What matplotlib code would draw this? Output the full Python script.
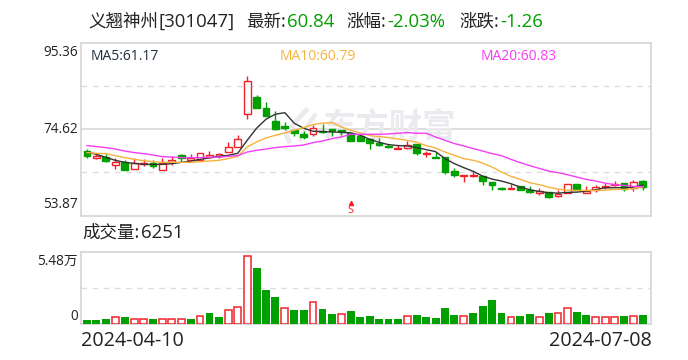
import numpy as np
import matplotlib
matplotlib.use("Agg")
import matplotlib.pyplot as plt
from matplotlib.patches import Rectangle

plt.rcParams["font.family"] = ["Noto Sans CJK SC", "DejaVu Sans"]

RED = "#f0232a"
GREEN = "#00a000"
LATIN = ["Open Sans", "DejaVu Sans"]

opens = [69.31, 67.69, 67.93, 66.00, 66.82, 65.14, 66.25, 66.58, 64.80, 66.66,
         68.34, 67.31, 67.31, 68.03, 68.10, 69.14, 70.44, 78.40, 82.26, 79.68,
         76.71, 75.34, 74.37, 73.41, 73.41, 74.30, 74.62, 74.37, 73.72, 72.93,
         72.28, 71.31, 70.59, 69.86, 70.11, 71.00, 68.59, 68.03, 67.86, 64.48,
         63.35, 63.35, 63.28, 61.83, 60.38, 60.14, 60.94, 59.90, 59.25, 59.49,
         58.53, 59.35, 61.52, 59.35, 60.07, 60.80, 61.28, 61.59, 60.46, 62.07]
closes = [68.10, 68.10, 66.90, 66.82, 64.80, 66.49, 66.58, 65.76, 66.58, 67.14,
          67.79, 67.79, 69.00, 68.51, 68.59, 70.44, 72.37, 86.12, 79.75, 77.82,
          74.62, 74.86, 73.72, 72.76, 74.93, 73.97, 74.13, 74.06, 71.79, 71.72,
          71.24, 70.76, 70.44, 70.11, 70.92, 68.90, 68.83, 67.79, 64.24, 63.52,
          63.59, 63.69, 62.15, 61.11, 60.14, 60.38, 59.97, 59.42, 59.73, 58.21,
          59.11, 61.52, 60.07, 59.83, 60.80, 60.94, 61.42, 60.14, 62.00, 60.84]
highs = [69.96, 68.75, 68.75, 67.79, 67.26, 67.62, 67.45, 67.31, 67.79, 68.10,
         68.59, 68.75, 69.00, 69.31, 68.83, 71.48, 73.34, 87.40, 82.82, 81.13,
         78.89, 76.30, 74.54, 74.13, 75.58, 75.82, 74.62, 74.54, 73.97, 73.17,
         72.44, 72.44, 71.17, 70.83, 71.72, 71.00, 69.38, 69.24, 67.86, 65.21,
         63.59, 64.41, 63.28, 61.83, 60.70, 61.35, 60.94, 61.04, 60.55, 59.49,
         59.90, 61.52, 61.52, 61.04, 61.11, 61.66, 62.07, 61.76, 62.31, 62.31]
lows = [67.79, 67.38, 66.66, 64.97, 64.80, 65.14, 65.69, 65.28, 64.80, 66.00,
        66.73, 67.31, 67.31, 67.79, 67.62, 69.14, 70.44, 77.10, 79.75, 77.82,
        74.45, 74.37, 73.10, 72.28, 72.98, 73.72, 72.98, 73.34, 71.79, 71.72,
        69.79, 70.52, 70.11, 69.86, 69.79, 68.34, 67.93, 67.62, 63.76, 63.04,
        61.83, 63.11, 61.18, 59.90, 59.90, 60.14, 59.97, 59.25, 58.77, 58.04,
        58.21, 59.35, 60.07, 59.35, 59.42, 60.31, 60.87, 59.73, 59.83, 60.07]

ma5 = [69.07, 68.59, 67.86, 67.14, 66.66, 66.41, 66.17, 66.17, 66.17, 66.34,
       66.66, 66.90, 67.38, 67.74, 68.10, 68.34, 68.83, 71.96, 74.86, 77.03,
       78.23, 78.60, 76.06, 74.86, 74.13, 74.06, 73.97, 73.89, 73.72, 73.17,
       72.20, 71.48, 70.92, 70.68, 70.59, 70.20, 69.72, 69.24, 67.55, 66.34,
       65.38, 64.48, 63.35, 62.63, 62.15, 61.52, 60.70, 60.07, 59.66, 59.35,
       59.25, 59.42, 59.49, 59.73, 60.07, 60.55, 60.55, 60.55, 60.70, 61.17]
ma10 = [68.99, 68.83, 68.75, 68.27, 67.79, 67.38, 67.06, 66.82, 66.66, 66.66,
        66.66, 66.66, 66.82, 66.97, 67.14, 67.55, 68.10, 70.35, 71.55, 72.52,
        73.17, 73.72, 74.37, 75.02, 75.75, 76.06, 76.23, 75.17, 74.37, 73.72,
        73.10, 72.86, 72.61, 72.28, 71.96, 71.48, 70.68, 70.11, 69.14, 68.34,
        67.55, 67.14, 66.49, 65.52, 64.32, 63.28, 62.56, 61.76, 61.28, 60.70,
        60.22, 59.97, 59.90, 59.90, 59.90, 59.97, 60.14, 60.14, 60.31, 60.79]
ma20 = [70.68, 70.44, 70.20, 69.86, 69.38, 69.00, 68.75, 68.42, 68.03, 67.93,
        67.79, 67.79, 67.79, 67.86, 67.93, 68.10, 68.27, 69.14, 69.55, 69.86,
        70.20, 70.44, 70.59, 70.83, 71.41, 71.79, 72.37, 72.76, 73.41, 73.41,
        73.41, 73.41, 73.48, 73.65, 73.82, 73.65, 73.65, 72.76, 71.96, 71.17,
        70.59, 69.96, 69.38, 68.75, 68.27, 67.38, 66.58, 65.86, 65.21, 64.56,
        64.17, 63.69, 63.11, 62.56, 62.15, 61.66, 61.28, 61.11, 60.87, 60.83]

# 万手
volumes = [0.25, 0.25, 0.33, 0.46, 0.48, 0.38, 0.31, 0.33, 0.38, 0.31,
           0.38, 0.33, 0.54, 0.79, 0.48, 1.00, 1.30, 5.15, 4.23, 2.55,
           2.01, 1.22, 1.02, 1.02, 1.61, 1.09, 0.71, 0.69, 0.94, 0.48,
           0.56, 0.33, 0.33, 0.33, 0.54, 0.64, 0.48, 0.41, 1.17, 0.64,
           0.61, 0.79, 1.32, 1.78, 0.79, 0.51, 0.56, 0.71, 0.51, 0.79,
           0.77, 1.15, 0.86, 0.64, 0.51, 0.46, 0.51, 0.56, 0.58, 0.63]
vol_up = [0, 0, 0, 1, 0, 1, 1, 0, 1, 1,
          1, 0, 1, 0, 0, 1, 1, 1, 0, 0,
          0, 1, 0, 0, 1, 0, 0, 1, 0, 0,
          0, 0, 0, 0, 1, 0, 0, 0, 0, 0,
          1, 0, 0, 0, 0, 1, 0, 0, 1, 0,
          1, 1, 0, 0, 1, 1, 1, 0, 1, 0]

price_ticks = [95.36, 74.62, 53.87]
price_grid = [84.99, 64.25]
vol_max = 5.48
date_labels = ["2024-04-10", "2024-07-08"]


def px_axes(fig, left, top, right, bottom):
    W, H = fig.get_size_inches() * fig.dpi
    return fig.add_axes([left / W, 1 - bottom / H, (right - left) / W, (bottom - top) / H])


def px_text(fig, x, y, s, **kw):
    W, H = fig.get_size_inches() * fig.dpi
    return fig.text(x / W, 1 - y / H, s, **kw)


def style_frame(ax):
    ax.set_xticks([])
    ax.set_yticks([])
    for s in ax.spines.values():
        s.set_color("#d4d4d8")
        s.set_linewidth(1.2)


def main():
    fig = plt.figure(figsize=(6.88, 3.6), dpi=100)
    xlim = (-0.64, 59.87)
    x = np.arange(len(closes))

    ax = px_axes(fig, 81, 43, 651, 215.5)
    ax.set_xlim(*xlim)
    ax.set_ylim(price_ticks[2], price_ticks[0])
    style_frame(ax)
    ax.axhline(price_ticks[1], color="#d8d8d8", lw=1.2, zorder=1)
    for g in price_grid:
        ax.axhline(g, color="#dcdcdc", lw=1, ls=(0, (4, 4)), zorder=1)

    # watermark, the logo is only a rough swoosh
    ax.text(0.54, 0.505, "东方财富", transform=ax.transAxes, fontsize=24, weight="bold",
            color="#ebebef", ha="center", va="center", zorder=1)
    ax.plot([0.395, 0.375, 0.36, 0.365], [0.61, 0.54, 0.47, 0.43], transform=ax.transAxes,
            color="#ebebef", lw=3.5, zorder=1)
    ax.plot([0.41, 0.395, 0.385], [0.58, 0.51, 0.44], transform=ax.transAxes,
            color="#ebebef", lw=3, zorder=1)

    width = 0.72
    for i in x:
        up = closes[i] >= opens[i]
        c = RED if up else GREEN
        top, bot = max(opens[i], closes[i]), min(opens[i], closes[i])
        ax.vlines(i, top, highs[i], color=c, lw=1, zorder=3)
        ax.vlines(i, lows[i], bot, color=c, lw=1, zorder=3)
        ax.add_patch(Rectangle((i - width / 2, bot), width, top - bot, facecolor="white" if up else c,
                               edgecolor=c, lw=1, zorder=3))

    ax.plot(x, ma5, color="#333333", lw=1, zorder=4)
    ax.plot(x, ma10, color="#f7b23b", lw=1, zorder=4)
    ax.plot(x, ma20, color="#f53df5", lw=1, zorder=4)

    ax.text(28.0, 53.85, "S", color=RED, fontsize=8, ha="center", va="bottom", family=LATIN, zorder=5)
    ax.plot([28.0], [56.9], marker="^", ms=3, color=RED, zorder=5)

    axv = px_axes(fig, 81, 252, 651, 323.5)
    axv.set_xlim(*xlim)
    axv.set_ylim(0, vol_max)
    style_frame(axv)
    axv.axhline(vol_max / 2, color="#dcdcdc", lw=1, ls=(0, (4, 4)), zorder=1)
    for i in x:
        if vol_up[i]:
            axv.bar(i, volumes[i], width=0.72, facecolor="white", edgecolor=RED, lw=1.1, zorder=3)
        else:
            axv.bar(i, volumes[i], width=0.84, color=GREEN, zorder=3)

    # header, coloured pieces are placed one after another
    dark = "#222222"
    cjk = 12.6
    num = 13.4
    px_text(fig, 88, 22, "义翘神州", fontsize=cjk, color=dark, va="center")
    px_text(fig, 158, 22, "[301047]", fontsize=num, color=dark, va="center", family=LATIN)
    px_text(fig, 246, 22, "最新:", fontsize=cjk, color=dark, va="center")
    px_text(fig, 287, 22, "60.84", fontsize=num, color=GREEN, va="center", family=LATIN)
    px_text(fig, 346, 22, "涨幅:", fontsize=cjk, color=dark, va="center")
    px_text(fig, 387, 22, "-2.03%", fontsize=num, color=GREEN, va="center", family=LATIN)
    px_text(fig, 459, 22, "涨跌:", fontsize=cjk, color=dark, va="center")
    px_text(fig, 500, 22, "-1.26", fontsize=num, color=GREEN, va="center", family=LATIN)

    px_text(fig, 91, 56, "MA5:61.17", fontsize=10, color="#1f2d3d", va="center", family=LATIN)
    px_text(fig, 280, 56, "MA10:60.79", fontsize=10, color="#f7b23b", va="center", family=LATIN)
    px_text(fig, 481, 56, "MA20:60.83", fontsize=10, color="#f53df5", va="center", family=LATIN)

    px_text(fig, 78, 52, "95.36", fontsize=9.8, color=dark, ha="right", va="center", family=LATIN)
    px_text(fig, 78, 129, "74.62", fontsize=9.8, color=dark, ha="right", va="center", family=LATIN)
    px_text(fig, 78, 205, "53.87", fontsize=9.8, color=dark, ha="right", va="center", family=LATIN)

    px_text(fig, 82, 233, "成交量:", fontsize=cjk, color=dark, va="center")
    px_text(fig, 141, 233, "6251", fontsize=num, color=dark, va="center", family=LATIN)
    px_text(fig, 78, 261, "5.48万", fontsize=9.8, color=dark, ha="right", va="center", family=LATIN + ["Noto Sans CJK SC"])
    px_text(fig, 78, 316, "0", fontsize=9.8, color=dark, ha="right", va="center", family=LATIN)

    px_text(fig, 81, 341, date_labels[0], fontsize=14.2, color=dark, va="center", family=LATIN)
    px_text(fig, 652, 341, date_labels[1], fontsize=14.2, color=dark, ha="right", va="center", family=LATIN)

    fig.savefig("out.png", dpi=100)


if __name__ == "__main__":
    main()
